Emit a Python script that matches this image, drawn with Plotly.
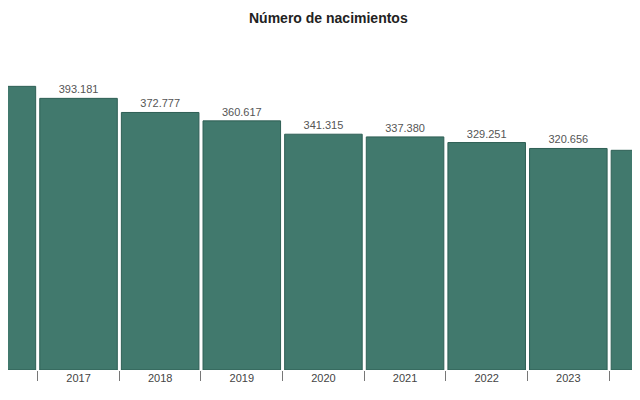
import plotly.graph_objects as go

# Births per year (thousands separators as dots, Spanish style)
years = ["2016", "2017", "2018", "2019", "2020", "2021", "2022", "2023", "2024"]
births = [410583, 393181, 372777, 360617, 341315, 337380, 329251, 320656, 318005]
labels = [f"{v:,}".replace(",", ".") for v in births]

fig = go.Figure()
fig.add_trace(go.Bar(
    x=years, y=births, text=labels, textposition="outside",
    textfont=dict(color="#555555", size=11),
    marker=dict(color="#41796d", line=dict(color="#2f5f55", width=1)),
    cliponaxis=False,
))

fig.update_layout(
    width=640, height=400,
    margin=dict(l=0, r=0, t=0, b=38),
    plot_bgcolor="white", paper_bgcolor="white",
    font=dict(family="Liberation Sans, Arial, sans-serif", color="#444444"),
    bargap=0.05, showlegend=False,
    annotations=[dict(text="<b>Número de nacimientos</b>", x=0.5, y=1.0,
                      xref="paper", yref="paper", yanchor="top", showarrow=False,
                      font=dict(size=14, color="#222222"))],
)
fig.update_xaxes(type="category", range=[0.136, 7.976], tickson="boundaries",
                 ticks="outside", ticklen=10, tickcolor="#777777",
                 showline=False, tickfont=dict(size=11, color="#444444"))
fig.update_yaxes(range=[0, 524000], visible=False)

fig.write_html("out.html")
